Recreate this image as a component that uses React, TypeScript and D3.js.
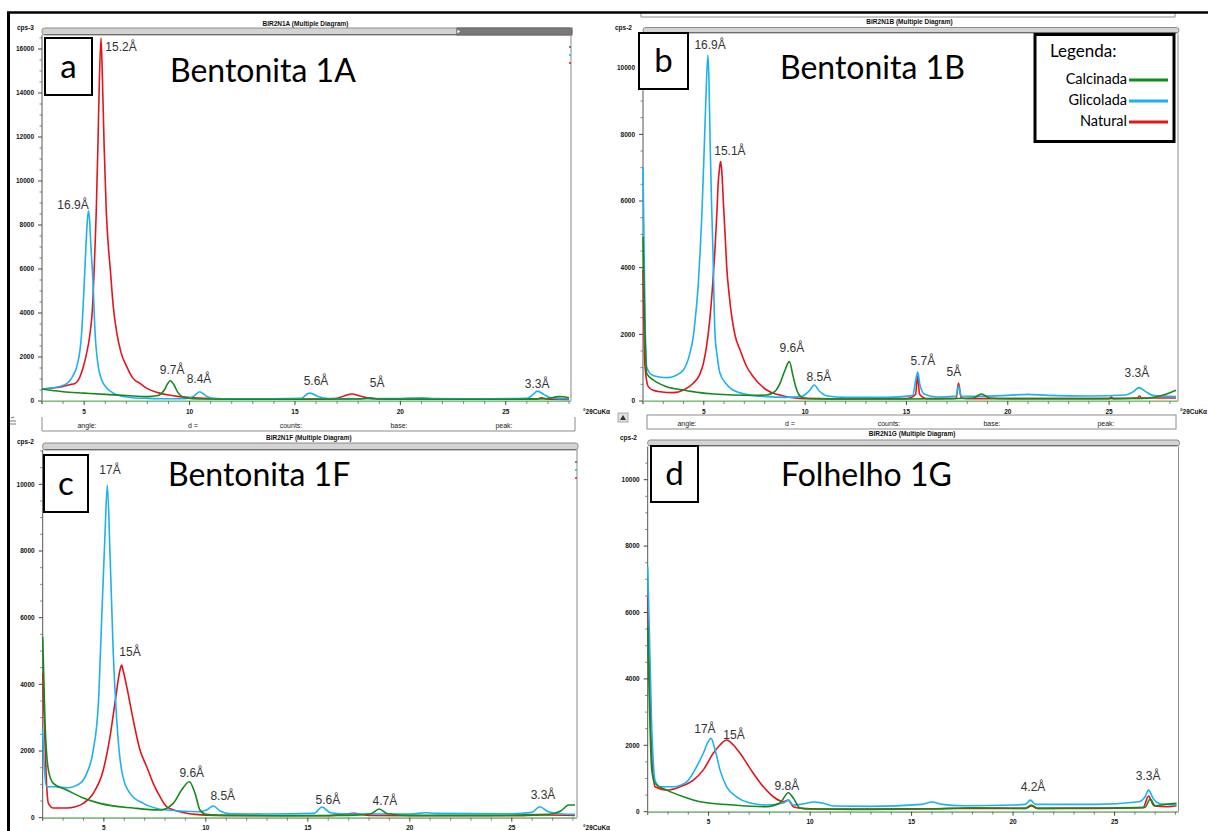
import React from 'react';
import * as d3 from 'd3';

type Pt = [number, number];

// ---------------- DATA ----------------
const xTickValues = [5, 10, 15, 20, 25];
const legendNames = ['Calcinada', 'Glicolada', 'Natural'];
const seriesColors = { calcinada: '#16891e', glicolada: '#1db1ef', natural: '#e3151c' };

// Panel a – Bentonita 1A (2θ, counts)
const aNatural: Pt[] = [[3,545],[3.5,590],[4.0,660],[4.3,740],[4.57,800],[4.8,1100],[4.96,1560],[5.1,2100],[5.28,3080],[5.4,4300],[5.48,6100],[5.57,8500],[5.65,11500],[5.72,14500],[5.8,16500],[5.87,14500],[5.95,11500],[6.05,8600],[6.15,7000],[6.23,6100],[6.38,4300],[6.55,3080],[6.75,2200],[7.02,1560],[7.3,1050],[7.65,800],[8.0,560],[8.5,380],[9.0,270],[9.5,200],[10,160],[11,115],[12,95],[14,85],[16,85],[16.9,110],[17.3,220],[17.7,320],[18.1,230],[18.6,110],[20,85],[22,85],[25,85],[26.5,95],[26.7,150],[26.9,95],[28,75]];
const aGlicolada: Pt[] = [[3,545],[3.5,600],[4.0,700],[4.3,900],[4.5,1200],[4.65,1560],[4.8,2300],[4.88,3080],[4.96,4500],[5.04,6100],[5.12,7700],[5.2,8640],[5.26,8200],[5.31,7200],[5.41,5600],[5.52,3080],[5.67,1560],[5.8,1050],[5.91,800],[6.1,560],[6.38,360],[6.8,220],[7.3,150],[8,120],[9,100],[9.8,110],[10.2,220],[10.48,420],[10.8,220],[11.2,110],[12,100],[14,100],[15.3,120],[15.6,330],[15.72,360],[16.1,200],[16.6,110],[18,100],[20,110],[21,150],[21.5,110],[24,100],[26,120],[26.3,300],[26.5,450],[26.8,300],[27.2,130],[28,100]];
const aCalcinada: Pt[] = [[3,545],[3.5,480],[4,420],[5,360],[6,300],[7,250],[8,200],[8.5,250],[8.8,500],[8.97,800],[9.08,920],[9.25,750],[9.45,380],[9.8,150],[10.5,90],[12,80],[15,80],[18,90],[18.55,140],[19,90],[22,80],[25,80],[27,110],[27.5,200],[27.7,190],[28,150]];
const aPeakLabels = ['15.2Å', '16.9Å', '9.7Å', '8.4Å', '5.6Å', '5Å', '3.3Å'];
const aPeakPos: Pt[] = [[6.75,15900],[4.47,8730],[9.17,1230],[10.45,820],[16.0,730],[18.9,640],[26.49,590]];

// Panel b – Bentonita 1B
const bNatural: Pt[] = [[2,3930],[2.1,1030],[2.26,430],[2.5,320],[2.84,280],[3.5,250],[4.0,330],[4.48,530],[4.8,800],[4.98,1130],[5.15,1700],[5.31,2530],[5.45,3600],[5.55,4530],[5.65,5700],[5.71,6530],[5.78,7000],[5.83,7180],[5.9,6800],[5.96,6030],[6.05,5000],[6.13,4030],[6.25,3200],[6.38,2530],[6.55,1950],[6.79,1530],[7.1,1050],[7.44,730],[7.8,480],[8.1,330],[8.6,200],[9.09,130],[9.5,90],[10,70],[12,60],[15,70],[15.45,200],[15.55,750],[15.65,200],[16,70],[17.45,80],[17.57,540],[17.7,100],[18,70],[20,70],[22,70],[25,70],[25.1,120],[25.2,70],[26.4,90],[26.5,150],[26.6,90],[28.3,90]];
const bGlicolada: Pt[] = [[2,6990],[2.1,2500],[2.18,1030],[2.4,800],[2.8,720],[3.2,700],[3.6,760],[3.99,930],[4.3,1400],[4.48,1930],[4.6,2600],[4.73,3530],[4.82,4500],[4.9,5530],[5.0,7200],[5.1,9000],[5.2,10380],[5.26,9500],[5.31,7800],[5.38,6000],[5.45,4530],[5.55,2030],[5.65,1400],[5.8,830],[6.1,520],[6.44,330],[7.28,180],[8.1,130],[9,110],[9.8,130],[10.2,300],[10.45,480],[10.7,300],[11.1,150],[12,110],[14,110],[15.3,160],[15.48,700],[15.56,870],[15.66,500],[15.9,200],[16.5,120],[17.45,150],[17.57,450],[17.7,150],[18.5,140],[20,170],[21,200],[22,170],[24,150],[25.8,180],[26.2,280],[26.47,400],[26.8,280],[27.2,160],[28.3,130]];
const bCalcinada: Pt[] = [[2,4930],[2.1,2000],[2.18,830],[2.51,630],[3.17,430],[3.99,330],[4.81,250],[5.5,210],[6.44,180],[7.5,170],[8.1,180],[8.5,280],[8.76,530],[9.01,930],[9.22,1180],[9.41,730],[9.55,400],[9.66,230],[9.9,100],[10.5,70],[12,60],[15,60],[17,70],[18.3,90],[18.7,210],[19.1,90],[20,70],[24,70],[26.6,80],[27.3,120],[27.8,200],[28.3,320]];
const bPeakLabels = ['16.9Å', '15.1Å', '9.6Å', '8.5Å', '5.7Å', '5Å', '3.3Å'];
const bPeakPos: Pt[] = [[5.31,10560],[6.29,7380],[9.35,1470],[10.68,600],[15.81,1080],[17.34,750],[26.37,720]];

// Panel c – Bentonita 1F
const cNatural: Pt[] = [[2,4330],[2.1,2500],[2.2,900],[2.28,430],[2.52,290],[3.18,290],[3.6,330],[3.99,430],[4.48,730],[4.97,1430],[5.3,2430],[5.54,3430],[5.79,4430],[5.87,4580],[5.95,4400],[6.12,3930],[6.44,2930],[6.77,2030],[7.1,1530],[7.42,1030],[7.75,630],[8.08,330],[8.73,180],[9.5,100],[10.5,70],[13,60],[16,60],[17,120],[17.3,130],[17.6,100],[18,70],[20,60],[25,60],[26.6,80],[28.1,70]];
const cGlicolada: Pt[] = [[2,2630],[2.08,1500],[2.2,930],[2.6,930],[3.2,900],[3.83,1030],[4.16,1330],[4.48,2030],[4.73,3430],[4.89,5930],[5.05,8430],[5.17,9980],[5.3,7930],[5.46,4930],[5.63,2930],[5.87,1430],[6.28,730],[6.93,430],[8.08,230],[9.71,180],[10.0,220],[10.37,350],[10.7,200],[11.2,120],[13,110],[15.3,130],[15.7,320],[16.1,150],[17,110],[20,110],[20.8,150],[21.2,130],[25,120],[26.0,160],[26.36,330],[26.8,180],[27.5,110],[28.1,100]];
const cCalcinada: Pt[] = [[2,5430],[2.11,2930],[2.28,1430],[2.52,1030],[3.18,830],[3.99,590],[4.81,430],[6.44,290],[7.75,230],[8.4,430],[8.81,830],[9.19,1080],[9.47,730],[9.71,230],[10,100],[11,70],[14,60],[17,70],[18.1,120],[18.5,260],[18.9,120],[20,70],[24,70],[26.8,100],[27.4,200],[27.8,380],[28.1,380]];
const cPeakLabels = ['17Å', '15Å', '9.6Å', '8.5Å', '5.6Å', '4.7Å', '3.3Å'];
const cPeakPos: Pt[] = [[5.3,10310],[6.28,4850],[9.31,1220],[10.83,530],[15.98,410],[18.78,380],[26.53,560]];

// Panel d – Folhelho 1G
const dNatural: Pt[] = [[2,6480],[2.2,1760],[2.36,750],[2.94,650],[3.59,750],[4.25,950],[4.74,1260],[5.23,1760],[5.56,2010],[5.89,2160],[6.22,2010],[6.55,1760],[6.88,1460],[7.2,1160],[7.7,750],[8.19,450],[8.68,300],[8.93,350],[9.17,150],[9.6,100],[10.5,80],[13,80],[16,90],[18,100],[20.6,100],[20.9,170],[21.2,100],[24,100],[26.4,120],[26.67,470],[26.95,170],[27.6,150],[28.05,180]];
const dGlicolada: Pt[] = [[2,7380],[2.2,2500],[2.36,950],[2.6,750],[3.26,750],[3.92,900],[4.41,1360],[4.74,1760],[4.98,2110],[5.12,2210],[5.32,1860],[5.56,1260],[5.89,750],[6.38,450],[7.04,260],[7.86,200],[8.68,260],[8.93,350],[9.17,200],[9.6,230],[10.2,290],[10.6,260],[11.2,170],[13,160],[15.5,220],[16,290],[16.5,220],[17.5,180],[20,200],[20.6,220],[20.85,350],[21.1,220],[24,220],[26.2,300],[26.5,450],[26.67,650],[26.9,400],[27.3,230],[28.05,200]];
const dCalcinada: Pt[] = [[2,5570],[2.2,1260],[2.36,850],[2.94,650],[3.76,450],[4.58,300],[6.22,200],[7.86,150],[8.51,260],[8.93,570],[9.17,410],[9.5,110],[10,80],[13,70],[16,80],[18,120],[20.6,100],[20.9,200],[21.2,100],[24,110],[26.5,130],[26.75,380],[27.0,180],[27.5,220],[28.05,250]];
const dPeakLabels = ['17Å', '15Å', '9.8Å', '4.2Å', '3.3Å'];
const dPeakPos: Pt[] = [[4.82,2370],[6.25,2190],[8.86,650],[20.98,620],[26.65,950]];

// ---------------- LAYOUT ----------------
const UI = 'Arial, "Liberation Sans", sans-serif';
const TITLE = 'Lato, "Open Sans", sans-serif';

interface Layout {
  key: string;
  xDomain: [number, number]; xRange: [number, number];
  yDomain: [number, number]; yRange: [number, number];
  yMaxTick: number;
  header: string; headerY: number;
  cps: string; cpsX: number; cpsY: number;
  barY: number; barH: number; darkFrom?: number;
  letter: string; letterBox: [number, number, number, number];
  title: string; titleX: number; titleY: number;
  axisUnitX?: number;
  marks?: boolean;
  natural: Pt[]; glicolada: Pt[]; calcinada: Pt[];
  peakLabels: string[]; peakPos: Pt[];
}

const panels: Layout[] = [
  { key: 'a', xDomain: [3, 28], xRange: [42, 569], yDomain: [0, 16636], yRange: [401, 35], yMaxTick: 16000,
    header: 'BIR2N1A (Multiple Diagram)', headerY: 26, cps: 'cps-3', cpsX: 17, cpsY: 30, barY: 28, barH: 7, darkFrom: 457,
    letter: 'a', letterBox: [45, 38, 47, 57], title: 'Bentonita 1A', titleX: 170, titleY: 82, axisUnitX: 583, marks: true,
    natural: aNatural, glicolada: aGlicolada, calcinada: aCalcinada, peakLabels: aPeakLabels, peakPos: aPeakPos },
  { key: 'b', xDomain: [2, 28.3], xRange: [643, 1176], yDomain: [0, 11025], yRange: [401, 33.5], yMaxTick: 10000,
    header: 'BIR2N1B (Multiple Diagram)', headerY: 24, cps: 'cps-2', cpsX: 615, cpsY: 30, barY: 27.5, barH: 5.5,
    letter: 'b', letterBox: [639, 33, 49, 56], title: 'Bentonita 1B', titleX: 780, titleY: 79, axisUnitX: 1180,
    natural: bNatural, glicolada: bGlicolada, calcinada: bCalcinada, peakLabels: bPeakLabels, peakPos: bPeakPos },
  { key: 'c', xDomain: [2, 28.1], xRange: [42.7, 575], yDomain: [0, 11030], yRange: [817.7, 450], yMaxTick: 10000,
    header: 'BIR2N1F (Multiple Diagram)', headerY: 440, cps: 'cps-2', cpsX: 17, cpsY: 444, barY: 443, barH: 7,
    letter: 'c', letterBox: [44, 455, 44, 57], title: 'Bentonita 1F', titleX: 168, titleY: 486, axisUnitX: 583, marks: true,
    natural: cNatural, glicolada: cGlicolada, calcinada: cCalcinada, peakLabels: cPeakLabels, peakPos: cPeakPos },
  { key: 'd', xDomain: [2, 28.05], xRange: [647.7, 1176.5], yDomain: [0, 11000], yRange: [811.7, 446.5], yMaxTick: 10000,
    header: 'BIR2N1G (Multiple Diagram)', headerY: 436, cps: 'cps-2', cpsX: 620, cpsY: 440, barY: 440, barH: 6,
    letter: 'd', letterBox: [651, 446, 47, 56], title: 'Folhelho 1G', titleX: 781, titleY: 486,
    natural: dNatural, glicolada: dGlicolada, calcinada: dCalcinada, peakLabels: dPeakLabels, peakPos: dPeakPos },
];

function Panel({ p }: { p: Layout }) {
  const x = d3.scaleLinear().domain(p.xDomain).range(p.xRange);
  const y = d3.scaleLinear().domain(p.yDomain).range(p.yRange);
  const line = d3.line<Pt>().x(d => x(d[0])).y(d => y(d[1])).curve(d3.curveMonotoneX);
  const x0 = p.xRange[0];
  const x1 = p.xRange[1];
  const yb = p.yRange[0];
  const yt = p.yRange[1];
  const yMajor = d3.range(0, p.yMaxTick + 1, 2000);
  const yMinor = d3.range(0, p.yDomain[1], 500).filter(v => v % 2000 !== 0);
  const xMinor = d3.range(Math.ceil(p.xDomain[0]), Math.floor(p.xDomain[1]) + 1).filter(v => v % 5 !== 0);
  const [bx, by, bw, bh] = p.letterBox;
  return (
    <g>
      {/* header */}
      <text x={(x0 + x1) / 2} y={p.headerY} fontFamily={UI} fontSize={6.5} fontWeight="bold" textAnchor="middle" fill="#111">{p.header}</text>
      <text x={p.cpsX} y={p.cpsY} fontFamily={UI} fontSize={6.5} fontWeight="bold" fill="#111">{p.cps}</text>
      <rect x={x0} y={p.barY} width={x1 - x0 + 3} height={p.barH} rx={2.5} fill="#d3d3d3" stroke="#8c8c8c" strokeWidth={1} />
      <line x1={x0 + 2} x2={x1 + 1} y1={p.barY + p.barH - 0.5} y2={p.barY + p.barH - 0.5} stroke="#6f6f6f" strokeWidth={1.2} />
      {p.darkFrom !== undefined && (
        <g>
          <rect x={p.darkFrom} y={p.barY} width={x1 + 3 - p.darkFrom} height={p.barH} fill="#7a7a7a" stroke="#666" />
          <path d={`M${p.darkFrom},${p.barY + 1} L${p.darkFrom + 4},${p.barY + p.barH / 2} L${p.darkFrom},${p.barY + p.barH - 1} Z`} fill="#fff" stroke="#555" strokeWidth={0.6} />
        </g>
      )}
      {/* frame */}
      <line x1={x1 + 2} x2={x1 + 2} y1={yt} y2={yb} stroke="#8a8a8a" strokeWidth={1} />
      <line x1={x0} x2={x0} y1={yt} y2={yb + 3} stroke="#555" strokeWidth={1} />
      <line x1={x0} x2={x1 + 2} y1={yb + 0.5} y2={yb + 0.5} stroke="#777" strokeWidth={1} />
      <line x1={x0} x2={x1 + 2} y1={yb} y2={yb} stroke="#8fd68f" strokeWidth={1.3} />
      {/* y ticks */}
      {yMajor.map(v => (
        <g key={'ym' + v}>
          <line x1={x0 - 4} x2={x0} y1={y(v)} y2={y(v)} stroke="#444" strokeWidth={1} />
          <text x={x0 - 8} y={y(v) + 2.3} fontFamily={UI} fontSize={6.5} fontWeight="bold" textAnchor="end" fill="#111">{v}</text>
        </g>
      ))}
      {yMinor.map(v => (
        <line key={'yn' + v} x1={x0 - 2.5} x2={x0} y1={y(v)} y2={y(v)} stroke="#666" strokeWidth={0.8} />
      ))}
      {/* x ticks */}
      {xTickValues.map(v => (
        <g key={'xm' + v}>
          <line x1={x(v)} x2={x(v)} y1={yb} y2={yb + 4} stroke="#444" strokeWidth={1} />
          <text x={x(v)} y={yb + 12.5} fontFamily={UI} fontSize={6.5} fontWeight="bold" textAnchor="middle" fill="#111">{v}</text>
        </g>
      ))}
      {xMinor.map(v => (
        <line key={'xn' + v} x1={x(v)} x2={x(v)} y1={yb} y2={yb + 3} stroke="#666" strokeWidth={0.8} />
      ))}
      {p.axisUnitX !== undefined && (
        <text x={p.axisUnitX} y={yb + 12.5} fontFamily={UI} fontSize={6.5} fontWeight="bold" fill="#111">°2θCuKα</text>
      )}
      {p.marks && (
        <g>
          <line x1={x1} x2={x1 + 2} y1={yt + 12} y2={yt + 12} stroke={seriesColors.calcinada} strokeWidth={1.5} />
          <line x1={x1} x2={x1 + 2} y1={yt + 20} y2={yt + 20} stroke={seriesColors.glicolada} strokeWidth={1.5} />
          <line x1={x1} x2={x1 + 2} y1={yt + 28} y2={yt + 28} stroke={seriesColors.natural} strokeWidth={1.5} />
        </g>
      )}
      {/* series */}
      <path d={line(p.natural) || ''} fill="none" stroke={seriesColors.natural} strokeWidth={1.6} strokeLinejoin="round" />
      <path d={line(p.glicolada) || ''} fill="none" stroke={seriesColors.glicolada} strokeWidth={1.6} strokeLinejoin="round" />
      <path d={line(p.calcinada) || ''} fill="none" stroke={seriesColors.calcinada} strokeWidth={1.6} strokeLinejoin="round" />
      {/* peak labels */}
      {p.peakLabels.map((t, i) => (
        <text key={'pk' + i} x={x(p.peakPos[i][0])} y={y(p.peakPos[i][1])} fontFamily={UI} fontSize={12} textAnchor="middle" fill="#333">{t}</text>
      ))}
      {/* letter box */}
      <rect x={bx} y={by} width={bw} height={bh} fill="#fff" stroke="#000" strokeWidth={2} />
      <text x={bx + bw / 2} y={by + bh / 2 + 11} fontFamily={TITLE} fontSize={33} textAnchor="middle" fill="#000">{p.letter}</text>
      <text x={p.titleX} y={p.titleY} fontFamily={TITLE} fontSize={32} fill="#000">{p.title}</text>
    </g>
  );
}

function InfoBox({ x0, x1, y0, y1, closed, xs }: { x0: number; x1: number; y0: number; y1: number; closed: boolean; xs: number[] }) {
  const labels = ['angle:', 'd =', 'counts:', 'base:', 'peak:'];
  return (
    <g>
      {closed ? (
        <rect x={x0} y={y0} width={x1 - x0} height={y1 - y0} fill="#fff" stroke="#8c8c8c" strokeWidth={1} />
      ) : (
        <path d={`M${x0},${y0} L${x0},${y1} L${x1},${y1} L${x1},${y0}`} fill="none" stroke="#8c8c8c" strokeWidth={1} />
      )}
      {labels.map((l, i) => (
        <text key={l} x={xs[i]} y={y1 - 3.5} fontFamily={UI} fontSize={7} textAnchor="middle" fill="#222">{l}</text>
      ))}
    </g>
  );
}

export default function App() {
  const legendColors = [seriesColors.calcinada, seriesColors.glicolada, seriesColors.natural];
  return (
    <svg width={1208} height={831} style={{ position: 'absolute', left: 0, top: 0, background: '#fff' }}>
      <rect x={0} y={0} width={1208} height={831} fill="#fff" />
      {panels.map(p => <Panel key={p.key} p={p} />)}
      <InfoBox x0={42} x1={575} y0={417} y1={431} closed={false} xs={[87, 193, 291, 399, 504]} />
      <InfoBox x0={647} x1={1176} y0={415} y1={429} closed={true} xs={[687, 790, 889, 992, 1106]} />
      {/* partial top info box of panel b */}
      <path d="M641,12 L641,17 L1175,17 L1175,12" fill="none" stroke="#8c8c8c" strokeWidth={1} />
      {/* small window icons */}
      <rect x={618} y={413} width={10} height={9} fill="#e2e2e2" stroke="#999" strokeWidth={0.8} />
      <path d="M620,420 L623,415 L626,420 Z" fill="#333" />
      <path d="M10,421 L16,421 M10,424 L16,424 M11,418 L14,417" stroke="#777" strokeWidth={1} fill="none" />
      {/* legend */}
      <rect x={1035} y={34.5} width={139} height={107} fill="#fff" stroke="#000" strokeWidth={3} />
      <text x={1050} y={57} fontFamily={TITLE} fontSize={17} fill="#000">Legenda:</text>
      {legendNames.map((n, i) => (
        <g key={n}>
          <text x={1127} y={84 + i * 21} fontFamily={TITLE} fontSize={14.5} textAnchor="end" fill="#000">{n}</text>
          <line x1={1129} x2={1168} y1={80 + i * 21} y2={80 + i * 21} stroke={legendColors[i]} strokeWidth={3} />
        </g>
      ))}
      {/* outer frame */}
      <line x1={7} x2={1208} y1={12.5} y2={12.5} stroke="#000" strokeWidth={2.5} />
      <line x1={8.5} x2={8.5} y1={12} y2={831} stroke="#000" strokeWidth={3} />
    </svg>
  );
}
